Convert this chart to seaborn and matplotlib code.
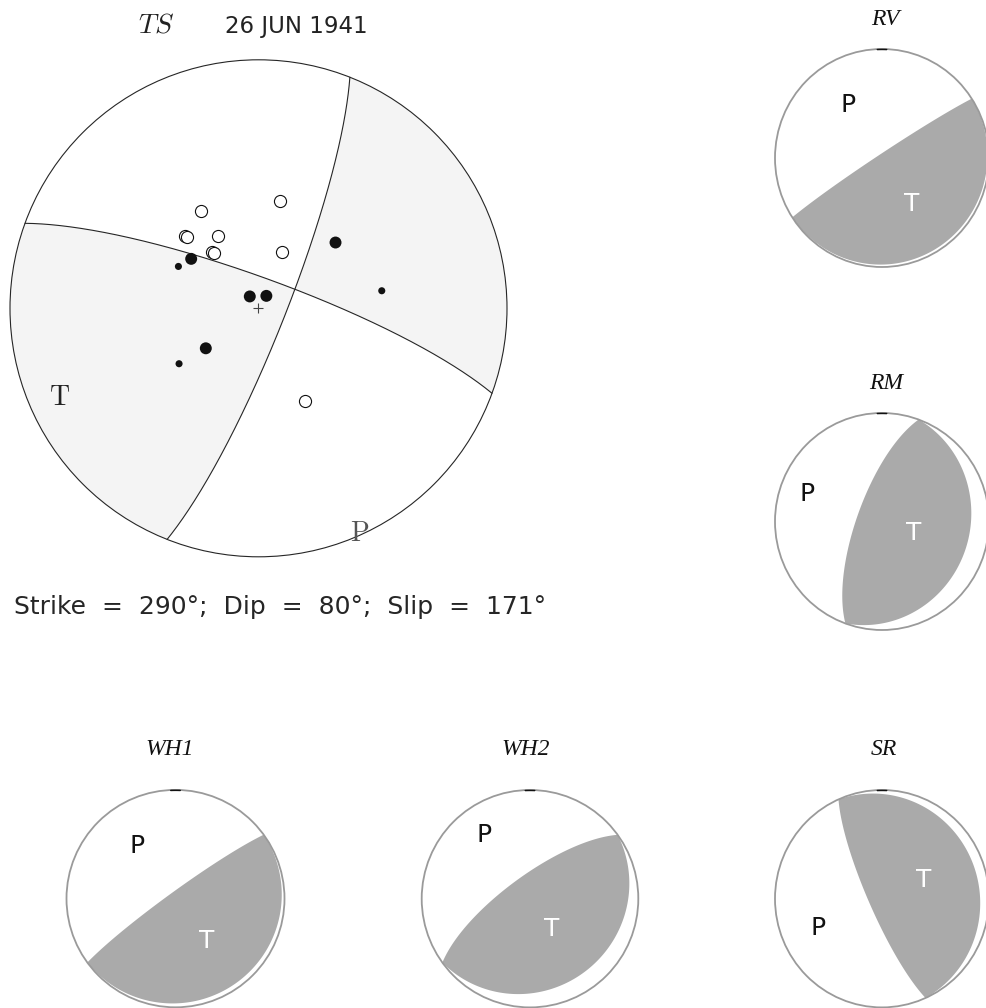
import numpy as np
import pandas as pd
import matplotlib
matplotlib.use("Agg")
import matplotlib.pyplot as plt
from matplotlib.patches import Circle
import seaborn as sns

W, H = 986, 1008

# Preferred focal mechanism
event_label = "TS"
event_date = "26 JUN 1941"
main_strike, main_dip, main_slip = 290, 80, 171

# First-motion readings: azimuth and take-off angle (degrees)
dil_az = [329.4, 11.5, 314.5, 314.7, 331.1, 320.3, 321.2, 22.5, 153.5]
dil_toa = [37.7, 36.3, 34.3, 33.3, 27.3, 24.1, 23.4, 19.8, 34.3]
comp_az = [306.3, 323.7, 32.3, 232.8, 49.5]
comp_toa = [27.5, 4.8, 4.8, 21.7, 33.5]
weak_az = [297.6, 235.1, 81.9]
weak_toa = [29.8, 32.0, 41.5]

# Alternative published solutions
alt_names = ["RV", "RM", "WH1", "WH2", "SR"]
alt_strike = [237, 200, 234, 234, 156]
alt_dip = [87, 71, 85, 73, 80]
alt_slip = [90, 90, 90, 90, 90]

sns.set_style("white")
plt.rcParams["font.family"] = ["DejaVu Sans"]
plt.rcParams["mathtext.fontset"] = "cm"

fig = plt.figure(figsize=(W / 100, H / 100), dpi=100)
fig.patch.set_facecolor("white")


def fig_text(x, y, s, **kw):
    fig.text(x / W, 1 - y / H, s, **kw)


def ball_axes(cx, cy, rx, ry, pad=1.04):
    ax = fig.add_axes([(cx - rx * pad) / W, 1 - (cy + ry * pad) / H,
                       2 * rx * pad / W, 2 * ry * pad / H])
    ax.set_xlim(-pad, pad)
    ax.set_ylim(-pad, pad)
    ax.axis("off")
    return ax


def fault_vectors(strike, dip, rake):
    f, d, l = np.radians([strike, dip, rake])
    n = np.array([-np.sin(d) * np.sin(f), np.sin(d) * np.cos(f), -np.cos(d)])
    s = np.array([np.cos(l) * np.cos(f) + np.sin(l) * np.cos(d) * np.sin(f),
                  np.cos(l) * np.sin(f) - np.sin(l) * np.cos(d) * np.cos(f),
                  -np.sin(l) * np.sin(d)])
    return n, s


def project(v):
    # lower-hemisphere equal-area projection of (N, E, Down) vectors
    v = np.atleast_2d(v)
    v = np.where(v[:, 2:3] < 0, -v, v)
    inc = np.arccos(np.clip(v[:, 2], -1, 1))
    az = np.arctan2(v[:, 1], v[:, 0])
    r = np.sqrt(2) * np.sin(inc / 2)
    return r * np.sin(az), r * np.cos(az)


def project_az(az_deg, toa_deg):
    az = np.radians(np.asarray(az_deg, float))
    toa = np.radians(np.asarray(toa_deg, float))
    r = np.sqrt(2) * np.sin(toa / 2)
    return r * np.sin(az), r * np.cos(az)


def aux_plane(s):
    u = s if s[2] < 0 else -s
    dip = np.degrees(np.arccos(-u[2]))
    dipdir = np.degrees(np.arctan2(u[1], u[0]))
    return (dipdir - 90) % 360, dip


def plane_curve(strike, dip, npts=400):
    f, d = np.radians([strike, dip])
    sv = np.array([np.cos(f), np.sin(f), 0.0])
    dd = np.array([np.cos(d) * np.cos(f + np.pi / 2),
                   np.cos(d) * np.sin(f + np.pi / 2), np.sin(d)])
    t = np.linspace(0, np.pi, npts)
    v = np.outer(np.cos(t), sv) + np.outer(np.sin(t), dd)
    return project(v)


def shade_quadrants(ax, n, s, color, clip):
    g = np.linspace(-1.02, 1.02, 900)
    X, Y = np.meshgrid(g, g)
    R = np.clip(np.hypot(X, Y), 0, 1)
    inc = 2 * np.arcsin(R / np.sqrt(2))
    az = np.arctan2(X, Y)
    v = np.stack([np.sin(inc) * np.cos(az), np.sin(inc) * np.sin(az),
                  np.cos(inc)], axis=-1)
    amp = (v @ n) * (v @ s)
    cs = ax.contourf(X, Y, amp, levels=[0, 10], colors=[color], antialiased=True)
    cs.set_clip_path(clip)


def axes_labels(n, s):
    t = (n + s) / np.sqrt(2)
    p = (n - s) / np.sqrt(2)
    return project(t), project(p)


# ---- main beach ball ----
ax = ball_axes(258.5, 308.3, 248.5, 248.5)
outline = Circle((0, 0), 1, transform=ax.transData, facecolor="none")
ax.add_patch(Circle((0, 0), 1, facecolor="white", edgecolor="none", zorder=0))
n, s = fault_vectors(main_strike, main_dip, main_slip)
shade_quadrants(ax, n, s, "#f4f4f4", outline)

for stk, dp in [(main_strike, main_dip), aux_plane(s)]:
    x, y = plane_curve(stk, dp)
    ax.plot(x, y, color="#262626", lw=0.8, zorder=3)
ax.add_patch(Circle((0, 0), 1, facecolor="none", edgecolor="#262626", lw=0.8, zorder=4))

frames = []
for kind, az, toa in [("dil", dil_az, dil_toa), ("comp", comp_az, comp_toa),
                      ("weak", weak_az, weak_toa)]:
    px, py = project_az(az, toa)
    frames.append(pd.DataFrame({"x": px, "y": py, "kind": kind}))
pts = pd.concat(frames, ignore_index=True)

sns.scatterplot(data=pts[pts.kind == "dil"], x="x", y="y", ax=ax, s=76,
                color="white", edgecolor="#111111", linewidth=0.8, legend=False, zorder=5)
sns.scatterplot(data=pts[pts.kind == "comp"], x="x", y="y", ax=ax, s=74,
                color="#111111", edgecolor="none", linewidth=0, legend=False, zorder=5)
sns.scatterplot(data=pts[pts.kind == "weak"], x="x", y="y", ax=ax, s=26,
                color="#111111", edgecolor="none", linewidth=0, legend=False, zorder=5)
ax.scatter([0], [0], marker="+", s=45, color="#444444", linewidths=0.8, zorder=5)

(tx, ty), (ppx, ppy) = axes_labels(n, s)
ax.text(tx[0], ty[0], r"$\mathrm{T}$", fontsize=20, color="#222222",
        ha="center", va="center", zorder=6)
ax.text(ppx[0], ppy[0], r"$\mathrm{P}$", fontsize=20, color="#555555",
        ha="center", va="center", zorder=6)
ax.set_xlabel("")
ax.set_ylabel("")

fig_text(156.5, 32.7, r"$%s$" % event_label, fontsize=20, ha="center",
         va="baseline", color="#222222")
fig_text(296, 32.7, event_date, fontsize=16.5, ha="center", va="baseline",
         color="#222222")
fig_text(14, 614, f"Strike  =  {main_strike}°;  Dip  =  {main_dip}°;  Slip  =  {main_slip}°",
         fontsize=18, ha="left", va="baseline", color="#262626")

# ---- alternative solutions ----
alt_boxes = {
    "RV": (882, 158.0, 107, 109),
    "RM": (882, 521.5, 107, 108.5),
    "WH1": (175.5, 898.6, 109, 108.7),
    "WH2": (530, 898.7, 108.3, 108.7),
    "SR": (882, 898.7, 107, 108.7),
}
alt_titles = {
    "RV": (885, 25), "RM": (886, 389), "WH1": (170, 755),
    "WH2": (526, 755), "SR": (884, 755),
}

for name, stk, dp, sl in zip(alt_names, alt_strike, alt_dip, alt_slip):
    cx, cy, rx, ry = alt_boxes[name]
    bax = ball_axes(cx, cy, rx, ry)
    clip = Circle((0, 0), 1, transform=bax.transData, facecolor="none")
    bax.add_patch(Circle((0, 0), 1, facecolor="white", edgecolor="none", zorder=0))
    n, s = fault_vectors(stk, dp, sl)
    shade_quadrants(bax, n, s, "#aaaaaa", clip)
    bax.add_patch(Circle((0, 0), 1, facecolor="none", edgecolor="#9a9a9a",
                         lw=1.3, zorder=4))
    ang = np.radians(np.linspace(-2.5, 2.5, 20))
    bax.plot(np.sin(ang), np.cos(ang) - 0.004, color="#111111", lw=1.1, zorder=5)
    (tx, ty), (ppx, ppy) = axes_labels(n, s)
    bax.text(tx[0], ty[0], "T", fontsize=18, color="white", ha="center",
             va="center", zorder=6)
    bax.text(ppx[0], ppy[0], "P", fontsize=18, color="#111111", ha="center",
             va="center", zorder=6)
    tx_, ty_ = alt_titles[name]
    fig_text(tx_, ty_, name, fontsize=17, ha="center", va="baseline",
             family=["Liberation Serif"], style="italic", color="#111111")

fig.savefig("out.png", dpi=100, facecolor="white")
